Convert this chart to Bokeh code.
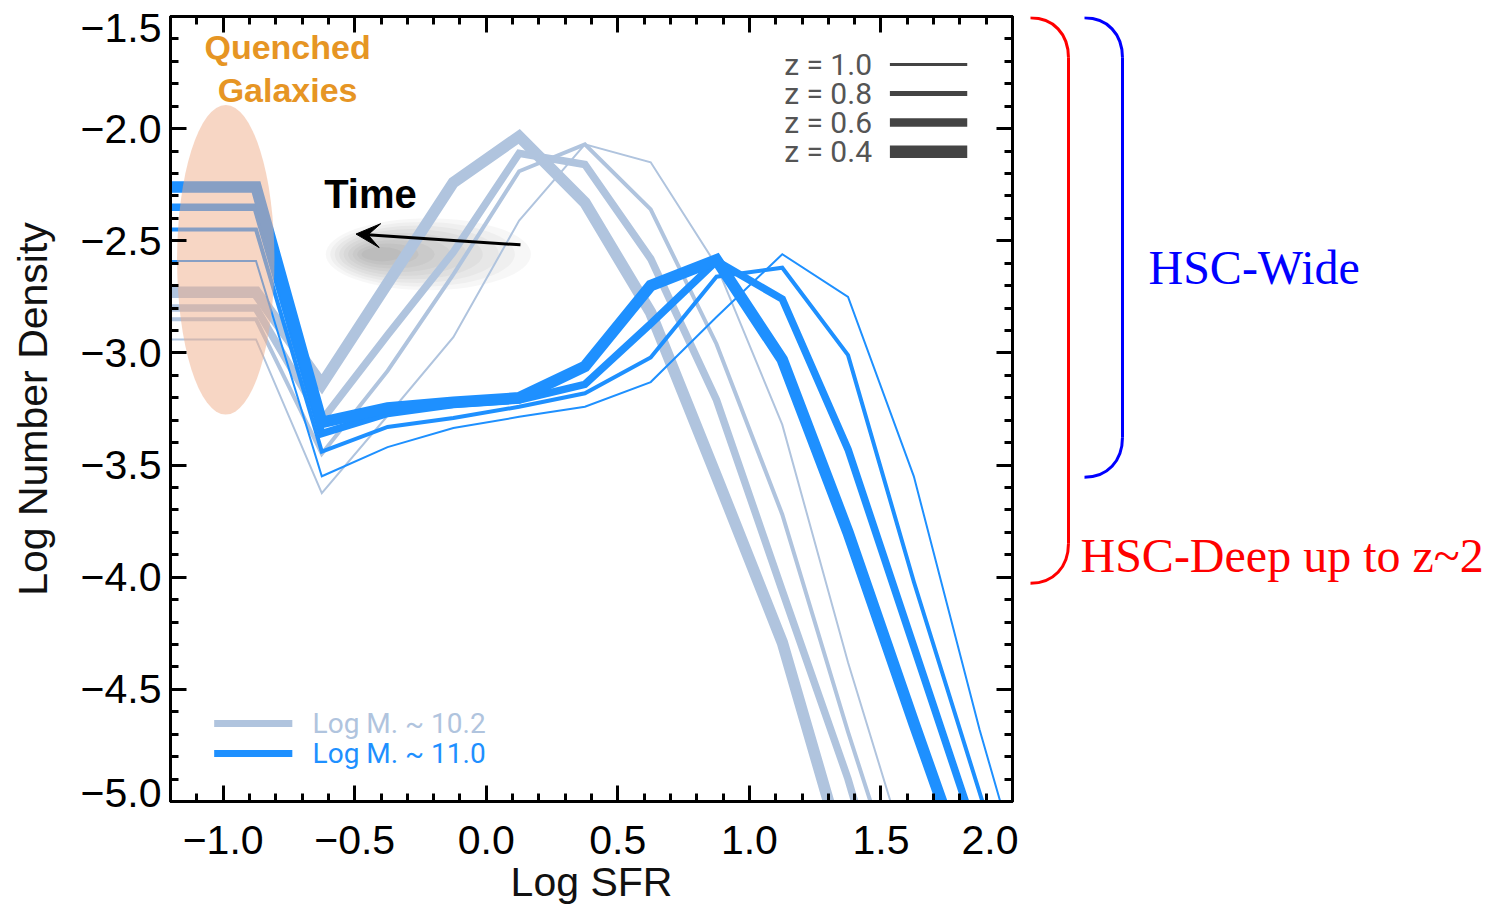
from bokeh.plotting import figure
from bokeh.models import (Range1d, LinearAxis, SingleIntervalTicker, FixedTicker,
                          CustomJSTickFormatter, Label, Arrow, VeeHead)
from bokeh.layouts import row
from bokeh.embed import file_html
from bokeh.resources import INLINE

# ---------------- data ----------------
SFR_BINS = [-1.375, -0.875, -0.625, -0.375, -0.125, 0.125, 0.375, 0.625,
            0.875, 1.125, 1.375, 1.625, 1.875, 2.125]

REDSHIFTS = ["1.0", "0.8", "0.6", "0.4"]

# Log M* ~ 10.2
LOW_Z10 = [-2.94, -2.94, -3.625, -3.28, -2.93, -2.41, -2.07, -2.15, -2.61, -3.32, -4.38, -5.34, -6.3, -7.3]
LOW_Z08 = [-2.85, -2.85, -3.45, -3.08, -2.65, -2.19, -2.07, -2.36, -2.96, -3.72, -4.69, -5.6, -6.6, -7.6]
LOW_Z06 = [-2.80, -2.80, -3.30, -2.92, -2.55, -2.11, -2.16, -2.58, -3.21, -4.06, -4.90, -5.9, -6.9, -7.9]
LOW_Z04 = [-2.73, -2.73, -3.14, -2.69, -2.24, -2.035, -2.33, -2.82, -3.55, -4.29, -5.30, -6.3, -7.3, -8.3]

# Log M* ~ 11.0
HIGH_Z10 = [-2.59, -2.59, -3.55, -3.42, -3.335, -3.285, -3.24, -3.13, -2.84, -2.56, -2.75, -3.55, -4.68, -5.7]
HIGH_Z08 = [-2.45, -2.45, -3.44, -3.33, -3.29, -3.24, -3.18, -3.02, -2.66, -2.62, -3.01, -4.02, -4.96, -5.9]
HIGH_Z06 = [-2.35, -2.35, -3.36, -3.27, -3.23, -3.21, -3.14, -2.87, -2.59, -2.76, -3.43, -4.31, -5.19, -6.1]
HIGH_Z04 = [-2.26, -2.26, -3.31, -3.245, -3.22, -3.20, -3.06, -2.70, -2.585, -3.03, -3.80, -4.65, -5.48, -6.3]

MASS_LABELS = ["Log M. ~ 10.2", "Log M. ~ 11.0"]

# survey depth limits (Log Number Density)
HSC_WIDE_LIMIT = -3.554
HSC_DEEP_LIMIT = -4.027

# ---------------- styling / layout ----------------
LOW_COLOR = "#B0C4DE"
HIGH_COLOR = "#1E90FF"
Z_WIDTHS = [2, 4, 7.5, 11.5]
X0, X1 = -1.2, 2.0
Y0, Y1 = -5.0, -1.5
FONT = "Liberation Sans"

B_LEFT, B_RIGHT, B_TOP, B_BOTTOM = 170, 6, 16, 109
FRAME_W, FRAME_H = 842, 785
W1 = B_LEFT + FRAME_W + B_RIGHT
H = B_TOP + FRAME_H + B_BOTTOM
W2 = 1488 - W1 - 2

YPX = FRAME_H / (Y1 - Y0)

p = figure(width=W1, height=H, x_range=Range1d(X0, X1), y_range=Range1d(Y0, Y1),
           output_backend="svg", toolbar_location=None,
           min_border_left=B_LEFT, min_border_right=B_RIGHT,
           min_border_top=B_TOP, min_border_bottom=B_BOTTOM,
           x_axis_label="Log SFR")
p.grid.visible = False
p.outline_line_color = "black"
p.outline_line_width = 3
p.background_fill_color = "white"
p.border_fill_color = "white"

fmt_num = CustomJSTickFormatter(code="return (tick < -1e-9 ? '\u2212' : '') + Math.abs(tick).toFixed(1);")
fmt_half = CustomJSTickFormatter(code="""
const v = Math.round(tick * 2) / 2;
return (v < -1e-9 ? '\u2212' : '') + Math.abs(v).toFixed(1);""")
fmt_none = CustomJSTickFormatter(code="return '';")

p.add_layout(LinearAxis(), "above")
p.add_layout(LinearAxis(), "right")
ax_bottom, ax_left, ax_top, ax_right = p.below[0], p.left[0], p.above[0], p.right[0]

for ax in (ax_bottom, ax_left, ax_top, ax_right):
    ax.ticker = SingleIntervalTicker(interval=0.5, num_minor_ticks=5)
    ax.axis_line_width = 3
    ax.major_tick_in = 16
    ax.major_tick_out = 0
    ax.minor_tick_in = 8
    ax.minor_tick_out = 0
    ax.major_tick_line_width = 3
    ax.minor_tick_line_width = 3
    ax.major_label_text_font = FONT
    ax.major_label_text_font_size = "41px"
    ax.major_label_text_color = "black"
    ax.axis_label_text_font = FONT
    ax.axis_label_text_font_size = "41px"
    ax.axis_label_text_font_style = "normal"
    ax.axis_label_text_color = "#111111"

for ax in (ax_top, ax_right, ax_left):
    ax.formatter = fmt_none
    ax.major_label_text_font_size = "1px"
    ax.major_label_standoff = 0

ax_bottom.formatter = fmt_num
ax_bottom.major_label_standoff = 24
ax_bottom.axis_label_standoff = 2

# y tick labels: the end labels sit nudged inside the frame, as in the original
Y_LABEL_POS = [Y1 - 11 / YPX, -2.0, -2.5, -3.0, -3.5, -4.0, -4.5, Y0 + 9 / YPX]
ax_ylab = LinearAxis(ticker=FixedTicker(ticks=Y_LABEL_POS, minor_ticks=[]),
                     formatter=fmt_half, axis_label="Log Number Density",
                     axis_line_color=None, major_tick_line_color=None,
                     minor_tick_line_color=None, major_tick_in=0, major_tick_out=0,
                     minor_tick_in=0, minor_tick_out=0, major_label_standoff=9,
                     major_label_text_font=FONT, major_label_text_font_size="41px",
                     major_label_text_color="black", axis_label_text_font=FONT,
                     axis_label_text_font_size="41px", axis_label_text_font_style="normal",
                     axis_label_text_color="#111111", axis_label_standoff=22)
p.add_layout(ax_ylab, "left")

# soft shadow behind the "Time" arrow
for i in range(9):
    f = 1.0 - i * 0.1
    p.ellipse(x=-0.22 - 0.22 * (1 - f), y=-2.56, width=0.78 * f, height=0.32 * f,
              fill_color="black", fill_alpha=0.03, line_color=None)

# curves
low_series = [LOW_Z10, LOW_Z08, LOW_Z06, LOW_Z04]
high_series = [HIGH_Z10, HIGH_Z08, HIGH_Z06, HIGH_Z04]
for ys, w in zip(low_series, Z_WIDTHS):
    p.line(SFR_BINS, ys, line_color=LOW_COLOR, line_width=w, line_join="miter")
for ys, w in zip(high_series, Z_WIDTHS):
    p.line(SFR_BINS, ys, line_color=HIGH_COLOR, line_width=w, line_join="miter")

# quenched-galaxies ellipse
p.ellipse(x=-0.99, y=-2.585, width=0.37, height=1.38,
          fill_color="#EFAE8A", fill_alpha=0.5, line_color=None)

p.add_layout(Label(x=-0.755, y=-1.638, text="Quenched", text_align="center",
                   text_baseline="middle", text_font=FONT, text_font_style="bold",
                   text_font_size="34px", text_color="#E69524"))
p.add_layout(Label(x=-0.755, y=-1.826, text="Galaxies", text_align="center",
                   text_baseline="middle", text_font=FONT, text_font_style="bold",
                   text_font_size="34px", text_color="#E69524"))

p.add_layout(Label(x=-0.44, y=-2.29, text="Time", text_align="center",
                   text_baseline="middle", text_font=FONT, text_font_style="bold",
                   text_font_size="40px", text_color="black"))
p.add_layout(Arrow(end=VeeHead(size=24, fill_color="black", line_color="black"),
                   x_start=0.13, y_start=-2.518, x_end=-0.495, y_end=-2.47,
                   line_width=3, line_color="black"))

# redshift (line width) legend
for i, (z, w) in enumerate(zip(REDSHIFTS, Z_WIDTHS)):
    yy = -1.714 - 0.1295 * i
    p.add_layout(Label(x=1.466, y=yy, text=f"z = {z}", text_align="right",
                       text_baseline="middle", text_font="Roboto",
                       text_font_size="30px", text_color="#555555"))
    p.line([1.534, 1.828], [yy, yy], line_color="#444444", line_width=w + 1)

# mass legend
for i, (lab, col) in enumerate(zip(MASS_LABELS, [LOW_COLOR, HIGH_COLOR])):
    yy = -4.652 - 0.134 * i
    p.line([-1.034, -0.737], [yy, yy], line_color=col, line_width=7)
    p.add_layout(Label(x=-0.66, y=yy, text=lab, text_align="left",
                       text_baseline="middle", text_font="Roboto",
                       text_font_size="28px", text_color=col))

# ---------------- right-hand annotation panel ----------------
p2 = figure(width=W2, height=H, x_range=Range1d(0, W2), y_range=p.y_range,
            output_backend="svg", toolbar_location=None,
            min_border_left=0, min_border_right=0,
            min_border_top=B_TOP, min_border_bottom=B_BOTTOM,
            x_axis_location=None, y_axis_location=None)
p2.grid.visible = False
p2.outline_line_color = None
p2.background_fill_color = "white"
p2.border_fill_color = "white"

r = 40 / YPX


def bracket(x_end, x_vert, y_top, y_bot, color):
    dx = x_vert - x_end
    p2.bezier(x0=[x_end], y0=[y_top], x1=[x_vert], y1=[y_top - r],
              cx0=[x_end + 0.6 * dx], cy0=[y_top], cx1=[x_vert], cy1=[y_top - 0.4 * r],
              line_color=color, line_width=3)
    p2.line([x_vert, x_vert], [y_top - r, y_bot + r], line_color=color, line_width=3)
    p2.bezier(x0=[x_vert], y0=[y_bot + r], x1=[x_end], y1=[y_bot],
              cx0=[x_vert], cy0=[y_bot + 0.4 * r], cx1=[x_end + 0.6 * dx], cy1=[y_bot],
              line_color=color, line_width=3)


bracket(12, 50, -1.506, HSC_DEEP_LIMIT, "#FF0000")
bracket(66, 104, -1.506, HSC_WIDE_LIMIT, "#0000FF")

p2.add_layout(Label(x=130, y=-2.62, text="HSC-Wide", text_align="left",
                    text_baseline="middle", text_font="Liberation Serif",
                    text_font_size="48px", text_color="#0000FF"))
p2.add_layout(Label(x=62, y=-3.902, text="HSC-Deep up to z~2", text_align="left",
                    text_baseline="middle", text_font="Liberation Serif",
                    text_font_size="48px", text_color="#FF0000"))

layout = row(p, p2)
open("out.html", "w").write(file_html(layout, INLINE))
